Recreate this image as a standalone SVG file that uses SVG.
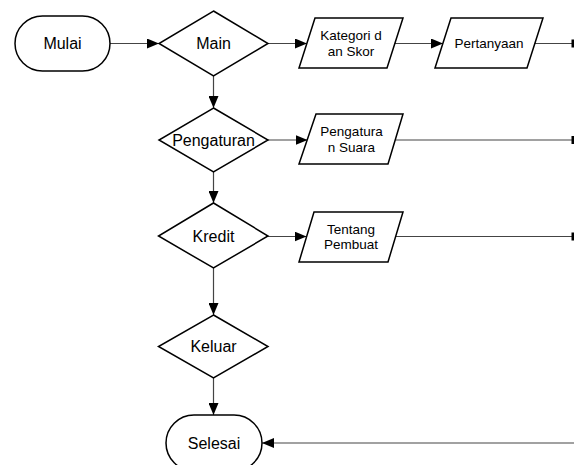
<svg xmlns="http://www.w3.org/2000/svg" width="574" height="465" viewBox="0 0 574 465">
<defs>
<marker id="arr" viewBox="0 0 12 10" refX="12" refY="5" markerWidth="12" markerHeight="10" markerUnits="userSpaceOnUse" orient="auto">
<path d="M0,0 L12,5 L0,10 Z" fill="#000"/>
</marker>
</defs>
<style>
.shape{fill:#fff;stroke:#000;stroke-width:1.5}
.lbl{font-family:"Liberation Sans",Arial,sans-serif;font-size:16px;fill:#000;text-anchor:middle;dominant-baseline:central}
.sm{font-family:"Liberation Sans",Arial,sans-serif;font-size:13.5px;fill:#000;text-anchor:middle;dominant-baseline:central}
.conn{stroke:#444;stroke-width:1.2;fill:none}
.tick{fill:#000}
</style>
<rect width="574" height="465" fill="#fff"/>
<g id="connectors">
<line class="conn" x1="110" y1="43.5" x2="159" y2="43.5" marker-end="url(#arr)"/>
<line class="conn" x1="268" y1="43.5" x2="307" y2="43.5" marker-end="url(#arr)"/>
<line class="conn" x1="395" y1="43.5" x2="443" y2="43.5" marker-end="url(#arr)"/>
<line class="conn" x1="535" y1="43.5" x2="574" y2="43.5"/>
<rect class="tick" x="571.5" y="39.5" width="3" height="8"/>
<line class="conn" x1="213.5" y1="76" x2="213.5" y2="108" marker-end="url(#arr)"/>
<line class="conn" x1="268" y1="140" x2="307.5" y2="140" marker-end="url(#arr)"/>
<line class="conn" x1="395.5" y1="140" x2="574" y2="140"/>
<rect class="tick" x="571.5" y="136" width="3" height="8"/>
<line class="conn" x1="213.5" y1="172" x2="213.5" y2="203" marker-end="url(#arr)"/>
<line class="conn" x1="268" y1="236.5" x2="306.5" y2="236.5" marker-end="url(#arr)"/>
<line class="conn" x1="395.5" y1="236.5" x2="574" y2="236.5"/>
<rect class="tick" x="571.5" y="232.5" width="3" height="8"/>
<line class="conn" x1="213.5" y1="268" x2="213.5" y2="315" marker-end="url(#arr)"/>
<line class="conn" x1="213.5" y1="378" x2="213.5" y2="415" marker-end="url(#arr)"/>
<line class="conn" x1="574" y1="443" x2="262" y2="443" marker-end="url(#arr)"/>
</g>
<g id="mulai">
<rect class="shape" x="15" y="16" width="95" height="55" rx="27.5" ry="27.5"/>
<text class="lbl" x="62.5" y="43.5">Mulai</text>
</g>
<g id="main">
<polygon class="shape" points="213.5,11 268,43.5 213.5,76 159,43.5"/>
<text class="lbl" x="213.5" y="43.5">Main</text>
</g>
<g id="kategori">
<polygon class="shape" points="315,18 403,18 387,68 299,68"/>
<text class="sm" x="351" y="35.5">Kategori d</text>
<text class="sm" x="351" y="51.5">an Skor</text>
</g>
<g id="pertanyaan">
<polygon class="shape" points="451,18 543,18 527,68 435,68"/>
<text class="sm" x="489" y="43.5">Pertanyaan</text>
</g>
<g id="pengaturan">
<polygon class="shape" points="213.5,108 268,140 213.5,172 159,140"/>
<text class="lbl" x="213.5" y="140">Pengaturan</text>
</g>
<g id="pengaturan-suara">
<polygon class="shape" points="316,114 403,114 388,164 299,164"/>
<text class="sm" x="351.5" y="131.5">Pengatura</text>
<text class="sm" x="351.5" y="147.5">n Suara</text>
</g>
<g id="kredit">
<polygon class="shape" points="213.5,203 268,236 213.5,268 158.5,236"/>
<text class="lbl" x="213.5" y="236">Kredit</text>
</g>
<g id="tentang">
<polygon class="shape" points="314,212 403,212 388,262 299,262"/>
<text class="sm" x="351" y="229.5">Tentang</text>
<text class="sm" x="351" y="244.5">Pembuat</text>
</g>
<g id="keluar">
<polygon class="shape" points="213.5,315 268,346.5 213.5,378 158.5,346.5"/>
<text class="lbl" x="213.5" y="346.5">Keluar</text>
</g>
<g id="selesai">
<rect class="shape" x="166" y="415" width="96" height="56" rx="28" ry="28"/>
<text class="lbl" x="214" y="443">Selesai</text>
</g>
</svg>
